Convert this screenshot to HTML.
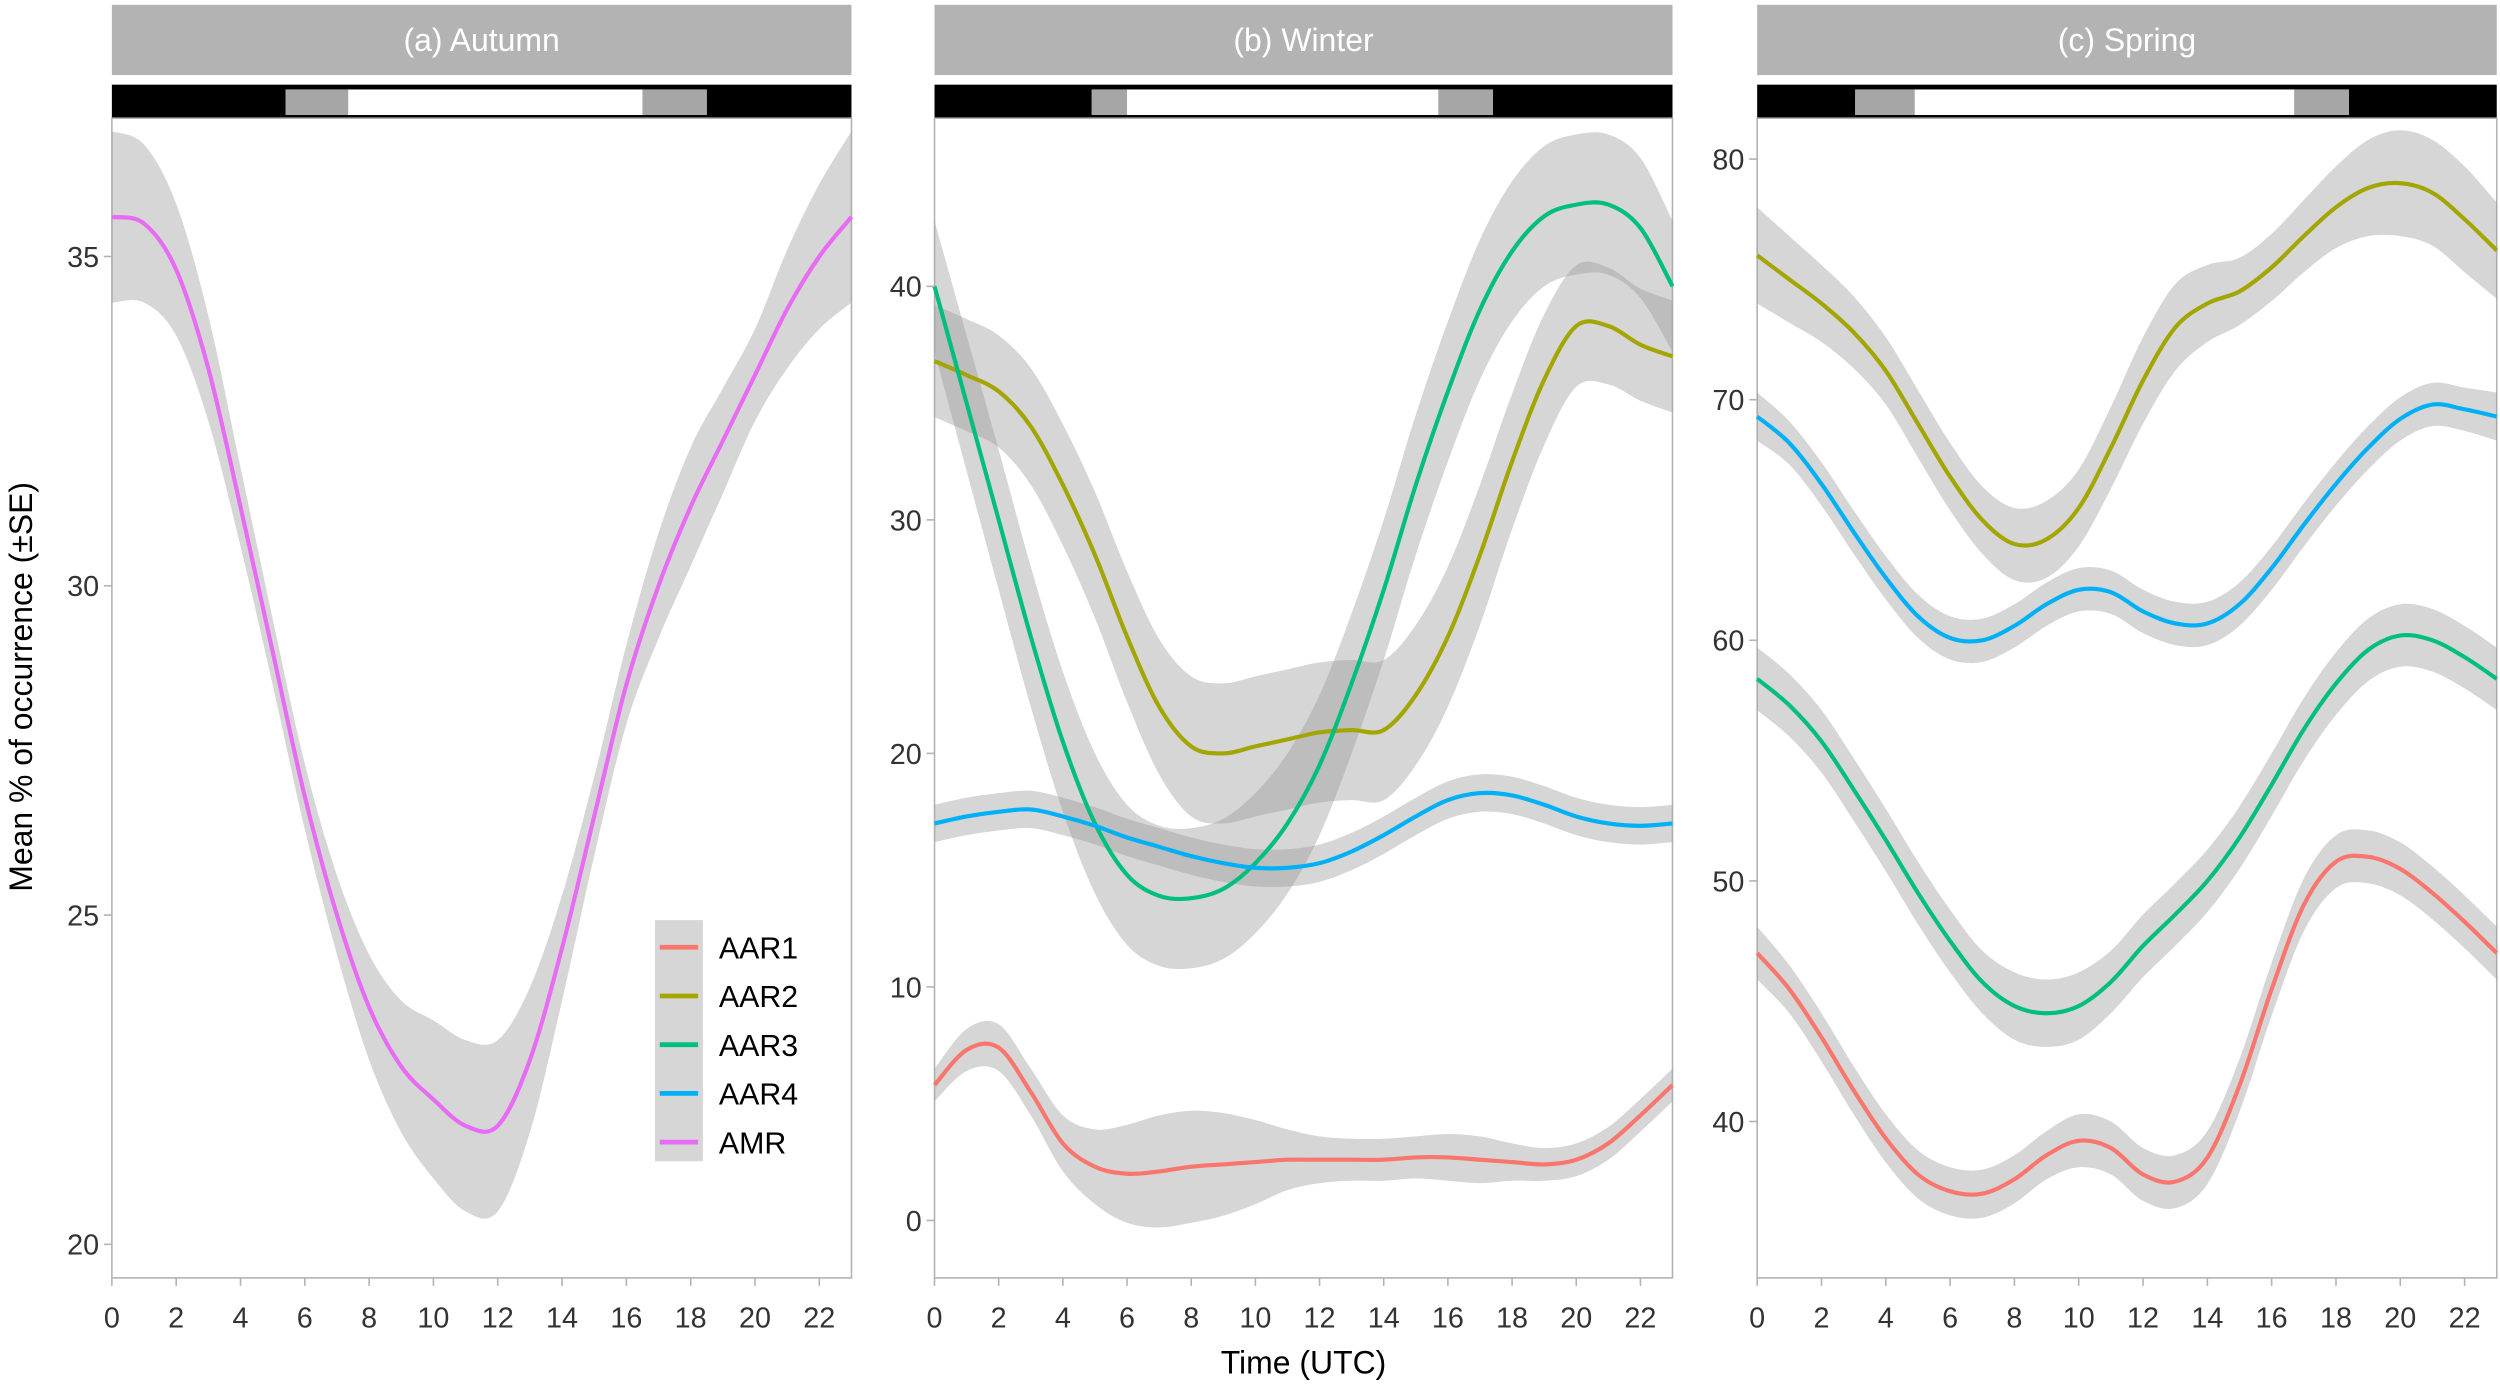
<!DOCTYPE html>
<html><head><meta charset="utf-8"><style>
html,body{margin:0;padding:0;background:#fff;}
svg{display:block;font-family:"Liberation Sans",Arial,sans-serif;}
</style></head><body>
<svg id="chart" width="2500" height="1387" viewBox="0 0 1565 868.3" xmlns="http://www.w3.org/2000/svg">
<text x="0" y="0" transform="translate(20,430) rotate(-90)" text-anchor="middle" font-size="20" fill="#000">Mean % of occurrence (±SE)</text>
<text x="816" y="860" text-anchor="middle" font-size="20" fill="#000">Time (UTC)</text>
<g id="panels"></g>
</svg>
<script>
const hours = [0,1,2,3,4,5,6,7,8,9,10,11,12,13,14,15,16,17,18,19,20,21,22,23];
const xTicks = [0,2,4,6,8,10,12,14,16,18,20,22];
const seriesNames = ["AAR1","AAR2","AAR3","AAR4","AMR"];
const seriesColors = {AAR1:"#F8766D",AAR2:"#A3A500",AAR3:"#00BF7D",AAR4:"#00B0F6",AMR:"#E76BF3"};

const autumnAMR = [35.6,35.5,34.8,33.3,31.2,29,26.8,25,23.6,22.7,22.2,21.8,21.8,22.8,24.5,26.5,28.5,30.0,31.2,32.2,33.2,34.2,35.0,35.6];
const autumnAMRse = [1.3,1.2,1.0,0.8,0.6,0.5,0.5,0.6,0.8,1.0,1.2,1.3,1.3,1.1,0.8,0.6,0.6,0.8,0.9,0.8,0.7,0.9,1.1,1.3];

const winterAAR1 = [5.8,7.3,7.4,5.5,3.3,2.3,2.0,2.1,2.3,2.4,2.5,2.6,2.6,2.6,2.6,2.7,2.7,2.6,2.5,2.4,2.6,3.3,4.5,5.8];
const winterAAR1se = [0.7,0.9,1.0,1.0,1.2,1.6,2.1,2.4,2.4,2.2,1.8,1.3,1.0,0.9,0.9,0.9,1.0,1.0,0.8,0.7,0.7,0.7,0.7,0.7];
const winterAAR2 = [36.8,36.2,35.5,34,31.5,28.5,25,22,20.3,20,20.3,20.6,20.9,21,21,22.5,25,28.5,32.5,36,38.3,38.3,37.5,37];
const winterAAR2se = [2.4,2.4,2.4,2.5,2.6,2.7,2.8,2.9,3.0,3.0,3.0,3.0,3.0,3.0,3.0,3.0,3.0,3.0,2.9,2.8,2.6,2.5,2.4,2.4];
const winterAAR3 = [40,35,30,25,20.5,17,14.8,13.9,13.8,14.2,15.3,17,19.5,23,27,31.5,35.5,39,41.5,43,43.5,43.5,42.5,40];
const winterAAR3se = [2.8,2.9,3.0,3.0,3.0,3.0,3.0,3.0,3.0,3.0,3.0,3.0,3.0,3.0,3.0,3.0,3.0,3.0,3.0,3.0,3.0,3.0,3.0,2.8];
const winterAAR4 = [17,17.3,17.5,17.6,17.3,16.9,16.4,16,15.6,15.3,15.1,15.1,15.3,15.8,16.5,17.3,18,18.3,18.2,17.8,17.3,17,16.9,17];
const winterAAR4se = [0.8,0.8,0.8,0.8,0.8,0.8,0.8,0.8,0.8,0.8,0.8,0.8,0.8,0.8,0.8,0.8,0.8,0.8,0.8,0.8,0.8,0.8,0.8,0.8];

const springAAR1 = [47,45.5,43.5,41.3,39.3,37.8,37.1,37,37.6,38.6,39.2,38.9,37.8,37.5,38.5,41.5,45.5,49,50.8,51,50.5,49.5,48.3,47];
const springAAR1se = [1.1,1.0,1.0,1.0,1.0,1.0,1.0,1.0,1.0,1.0,1.1,1.1,1.1,1.1,1.1,1.1,1.1,1.1,1.1,1.1,1.1,1.1,1.1,1.1];
const springAAR2 = [76,75,74,72.8,71.2,69,66.8,65,64,64.2,65.5,68,70.8,73,74,74.5,75.5,76.8,78,78.8,79,78.6,77.5,76.2];
const springAAR2se = [2.0,1.8,1.6,1.5,1.4,1.4,1.4,1.4,1.5,1.6,1.6,1.7,1.8,1.8,1.6,1.4,1.4,1.5,1.7,2.0,2.2,2.2,2.2,2.0];
const springAAR3 = [58.4,57.3,55.8,53.8,51.7,49.5,47.5,45.8,44.8,44.5,44.8,45.8,47.3,48.6,50,51.8,54,56.3,58.2,59.6,60.2,60,59.3,58.4];
const springAAR3se = [1.3,1.3,1.3,1.3,1.3,1.3,1.3,1.3,1.4,1.4,1.4,1.3,1.3,1.3,1.3,1.3,1.3,1.3,1.3,1.3,1.3,1.3,1.3,1.3];
const springAAR4 = [69.3,68.2,66.5,64.5,62.6,61,60.1,60,60.6,61.5,62.1,62,61.2,60.7,60.7,61.5,63,64.8,66.5,68,69.2,69.8,69.6,69.3];
const springAAR4se = [1.0,0.9,0.9,0.9,0.9,0.9,0.9,0.9,0.9,0.9,0.9,0.9,0.9,0.9,0.9,0.9,0.9,0.9,0.9,0.9,0.9,0.9,0.9,1.0];

const autumnYTicks = [20,25,30,35];
const winterYTicks = [0,10,20,30,40];
const springYTicks = [40,50,60,70,80];
const autumnLight = [5.4,7.35,16.5,18.5];
const winterLight = [4.9,6.0,15.7,17.4];
const springLight = [3.05,4.9,16.7,18.4];

const NS = "http://www.w3.org/2000/svg";
const root = document.getElementById("panels");
function mk(tag, attrs, parent){const e=document.createElementNS(NS,tag);for(const k in attrs)e.setAttribute(k,attrs[k]);(parent||root).appendChild(e);return e;}
function smooth(pts){
  let d="M"+pts[0][0]+","+pts[0][1];
  for(let i=0;i<pts.length-1;i++){
    const p0=pts[Math.max(0,i-1)],p1=pts[i],p2=pts[i+1],p3=pts[Math.min(pts.length-1,i+2)];
    const c1=[p1[0]+(p2[0]-p0[0])/6,p1[1]+(p2[1]-p0[1])/6];
    const c2=[p2[0]-(p3[0]-p1[0])/6,p2[1]-(p3[1]-p1[1])/6];
    d+=" C"+c1[0]+","+c1[1]+" "+c2[0]+","+c2[1]+" "+p2[0]+","+p2[1];
  }
  return d;
}
const panels = [
  {key:"autumn",title:"(a) Autumn",x0:70,x1:533,yMin:19.49,yMax:37.1,ticks:autumnYTicks,light:autumnLight,
   series:[["AMR",autumnAMR,autumnAMRse]]},
  {key:"winter",title:"(b) Winter",x0:585,x1:1047,yMin:-2.46,yMax:47.2,ticks:winterYTicks,light:winterLight,
   series:[["AAR1",winterAAR1,winterAAR1se],["AAR2",winterAAR2,winterAAR2se],["AAR3",winterAAR3,winterAAR3se],["AAR4",winterAAR4,winterAAR4se]]},
  {key:"spring",title:"(c) Spring",x0:1100,x1:1563,yMin:33.5,yMax:81.7,ticks:springYTicks,light:springLight,
   series:[["AAR1",springAAR1,springAAR1se],["AAR2",springAAR2,springAAR2se],["AAR3",springAAR3,springAAR3se],["AAR4",springAAR4,springAAR4se]]}
];
const plotTop=74,plotBot=800;
panels.forEach(p=>{
  const g=mk("g",{});
  
  
  const xs=h=>p.x0+(h/23)*(p.x1-p.x0);
  const ys=v=>plotBot-(v-p.yMin)/(p.yMax-p.yMin)*(plotBot-plotTop);
  const strip=mk("rect",{x:p.x0,y:3,width:p.x1-p.x0,height:44,fill:"#b3b3b3"},g);
  
  
  const st=mk("text",{x:(p.x0+p.x1)/2,y:32,"text-anchor":"middle","font-size":20,fill:"#fff"},g);
  st.textContent=p.title;
  
  
  const bar=mk("rect",{x:p.x0,y:53,width:p.x1-p.x0,height:21,fill:"#000"},g);
  
  
  const L=p.light;
  mk("rect",{x:xs(L[0]),y:56,width:xs(L[3])-xs(L[0]),height:16,fill:"#fff"},g);
  const tw1=mk("rect",{x:xs(L[0]),y:56,width:xs(L[1])-xs(L[0]),height:16,fill:"#a6a6a6"},g);
  
  
  const tw2=mk("rect",{x:xs(L[2]),y:56,width:xs(L[3])-xs(L[2]),height:16,fill:"#a6a6a6"},g);
  
  
  mk("rect",{x:p.x0,y:plotTop,width:p.x1-p.x0,height:plotBot-plotTop,fill:"none",stroke:"#b3b3b3","stroke-width":1},g);
  p.series.forEach(s=>{
    const [name,vals,se]=s;
    const up=hours.map((h,i)=>[xs(h),ys(vals[i]+se[i])]);
    const lo=hours.map((h,i)=>[xs(h),ys(vals[i]-se[i])]).reverse();
    const band=mk("path",{d:smooth(up)+" L"+smooth(lo).slice(1)+" Z",fill:"#999","fill-opacity":0.4},g);
    
    
  });
  p.series.forEach(s=>{
    const [name,vals]=s;
    const line=mk("path",{d:smooth(hours.map((h,i)=>[xs(h),ys(vals[i])])),fill:"none",stroke:seriesColors[name],"stroke-width":2.6},g);
    
    
  });
  p.ticks.forEach(t=>{
    mk("line",{x1:p.x0-5,x2:p.x0,y1:ys(t),y2:ys(t),stroke:"#b3b3b3"},g);
    const tl=mk("text",{x:p.x0-8,y:ys(t)+6.5,"text-anchor":"end","font-size":18,fill:"#333"},g);
    tl.textContent=t;
    
    
  });
  xTicks.forEach(t=>{
    mk("line",{x1:xs(t),x2:xs(t),y1:plotBot,y2:plotBot+5,stroke:"#b3b3b3"},g);
    const tl=mk("text",{x:xs(t),y:plotBot+31,"text-anchor":"middle","font-size":18,fill:"#333"},g);
    tl.textContent=t;
    
    
  });
});
// legend
const lg=mk("g",{});


mk("rect",{x:410,y:576,width:30,height:151,fill:"#999","fill-opacity":0.4},lg);
seriesNames.forEach((n,i)=>{
  const y=593+i*30.5;
  const ln=mk("line",{x1:413,x2:437,y1:y,y2:y,stroke:seriesColors[n],"stroke-width":3},lg);
  
  
  const t=mk("text",{x:450,y:y+7,"font-size":19,fill:"#000"},lg);
  t.textContent=n;
  
  
});
</script>
</body></html>
